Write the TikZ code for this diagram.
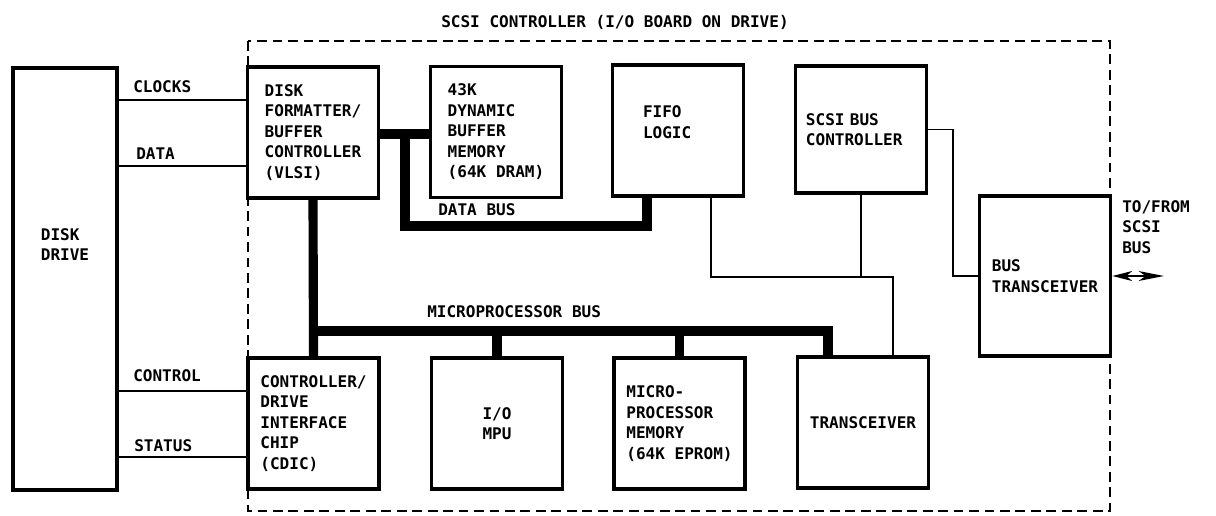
\documentclass[tikz,border=0pt]{standalone}
\usepackage{fontspec}
\setmonofont{DejaVu Sans Mono}
\usetikzlibrary{arrows.meta}

\newcommand\chipfont{\ttfamily\bfseries\fontsize{11.4}{14.6}\selectfont}

\begin{document}
\begin{tikzpicture}[
    x=0.025cm, y=-0.025cm, font=\chipfont,
    box/.style={rectangle, draw, line width=2.4pt, minimum width=3.28cm, minimum height=3.28cm, align=left, inner sep=0pt},
    txt/.style={inner sep=0pt},
    wire/.style={line width=1pt},
    bus/.style={line width=6.5pt},
    board/.style={line width=1.2pt, dash pattern=on 7pt off 4pt}
]
    \useasboundingbox (0,0) rectangle (1216,515);

    % I/O board outline
    \draw[board] (248,41) rectangle (1110,511);
    \node[txt] (title) at (615,22) {SCSI CONTROLLER (I/O BOARD ON DRIVE)};

    % Drive
    \node[box, minimum width=2.6cm, minimum height=10.55cm] (drive) at (65,279) {DISK\\DRIVE\\[1.2cm]~};

    % Top row
    \node[box] (fmt) at (313,132.5) {DISK\\FORMATTER/\\BUFFER\\CONTROLLER\\(VLSI)};
    \node[box] (dram) at (496,132) {43K\\DYNAMIC\\BUFFER\\MEMORY\\(64K DRAM)};
    \node[box, text width=1.75cm] (fifo) at (678,130.5) {FIFO\\LOGIC\\[-0.1cm]~};
    \node[box, text width=2.75cm, minimum height=3.18cm] (sbc) at (861,129.5) {SCSI BUS\\CONTROLLER};
    \node[box, minimum height=4cm] (btx) at (1045,276) {BUS\\TRANSCEIVER};

    % Bottom row
    \node[box] (cdic) at (313.5,423.5) {CONTROLLER/\\DRIVE\\INTERFACE\\CHIP\\(CDIC)};
    \node[box, align=center] (mpu) at (497,423.5) {I/O\\MPU};
    \node[box] (mem) at (679.5,423.5) {MICRO-\\PROCESSOR\\MEMORY\\(64K EPROM)};
    \node[box] (tx) at (863,422.5) {TRANSCEIVER};

    % Drive signals
    \node[txt, anchor=west] (clk) at (133,87) {CLOCKS};
    \node[txt, anchor=west] (dat) at (136,154) {DATA};
    \node[txt, anchor=west] (ctl) at (133,376) {CONTROL};
    \node[txt, anchor=west] (sts) at (134,446) {STATUS};
    \draw[wire] (drive.east |- 0,100) -- (fmt.west |- 0,100);
    \draw[wire] (drive.east |- 0,166) -- (fmt.west |- 0,166);
    \draw[wire] (drive.east |- 0,391) -- (cdic.west |- 0,391);
    \draw[wire] (drive.east |- 0,457) -- (cdic.west |- 0,457);

    % Data bus
    \draw[bus] (fmt.east |- 0,134) -- (dram.west |- 0,134);
    \draw[bus] (405,134) |- (647,226) -- (647,0 |- fifo.south);
    \node[txt, anchor=west] (dbus) at (438,210) {DATA BUS};

    % Microprocessor bus
    \draw[bus] (fmt.south) -- (cdic.north);
    \draw[bus] (fmt.south |- 0,331) -| (828,0 |- tx.north);
    \draw[bus] (mpu.north |- 0,331) -- (mpu.north);
    \draw[bus] (mem.north |- 0,331) -- (mem.north);
    \node[txt, anchor=west] (mbus) at (427,312) {MICROPROCESSOR BUS};

    % SCSI side wiring
    \draw[wire] (711,0 |- fifo.south) |- (893,277) -- (893,0 |- tx.north);
    \draw[wire] (sbc.south) -- (sbc.south |- 0,277);
    \draw[wire] (sbc.east) -| (953,0 |- btx.west) -- (btx.west);
    \draw[line width=1.6pt, {Stealth[length=14pt, width=7pt, inset=4pt]}-{Stealth[length=18pt, width=7pt, inset=5pt]}] (btx.east) -- (1164,0 |- btx.east);
    \node[txt, anchor=west, align=left] (scsi) at (1122,227) {TO/FROM\\SCSI\\BUS};
\end{tikzpicture}
\end{document}
